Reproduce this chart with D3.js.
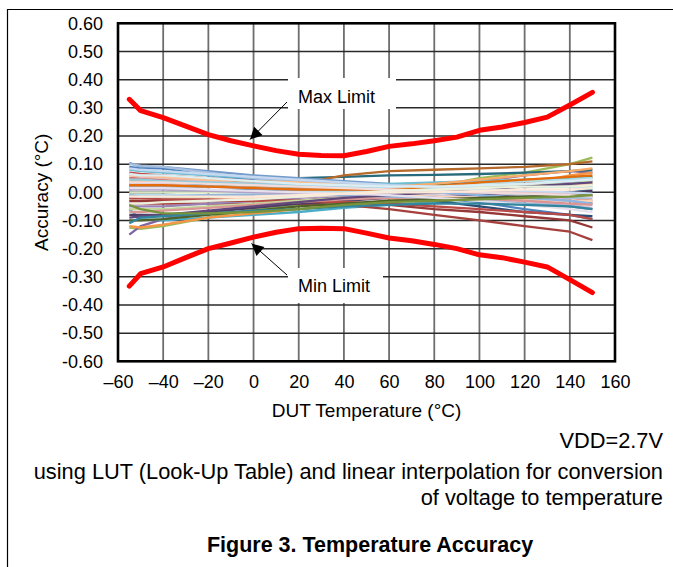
<!DOCTYPE html>
<html><head><meta charset="utf-8">
<script src="https://cdn.jsdelivr.net/npm/d3@7"></script>
<style>
html,body{margin:0;padding:0;background:#fff;}
svg{display:block;font-family:"Liberation Sans",Arial,sans-serif;}
</style></head>
<body>
<svg id="chart" width="673" height="567"></svg>
<script>
// ---- data ----
const limitTemps = [-55,-50,-40,-30,-20,-10,0,10,20,30,40,50,60,70,80,90,100,110,120,130,140,150];
const maxLimit = [0.33,0.29,0.265,0.235,0.205,0.183,0.165,0.148,0.135,0.131,0.13,0.145,0.163,0.172,0.183,0.196,0.22,0.232,0.248,0.267,0.31,0.355];
const minLimit = [-0.333,-0.289,-0.265,-0.232,-0.2,-0.18,-0.159,-0.142,-0.129,-0.128,-0.129,-0.145,-0.162,-0.172,-0.185,-0.2,-0.222,-0.232,-0.248,-0.265,-0.31,-0.356];

const dutTemps = [-55,-50,-40,-20,0,20,40,60,80,100,120,140,150];
const dutColors = ["#4F81BD","#C0504D","#9BBB59","#8064A2","#4BACC6","#F79646",
  "#2C4D75","#A5403D","#5F7530","#4D3B62","#276A7C","#B5692A",
  "#729ACA","#CD7371","#AFC97A","#9983B5","#6FBDD1","#F9AB6B",
  "#A7BFDE","#E6B9B8","#D7E4BD","#CCC1DA","#B7DEE8","#FCD5B5",
  "#953735","#B84A47","#8EB4E3","#FAC090","#C3D69B","#B3A2C7",
  "#93CDDD","#E46C0A","#D99694","#95B3D7","#4F6228","#60497A",
  "#C6D9F1","#F2DCDB","#EBF1DE","#E5E0EC","#DBEEF4","#FDE9D9","#31859C","#77933C"];
const dutValues = [
  [0.09,0.085,0.085,0.06,0.045,0.035,0.02,0.0,-0.02,-0.035,-0.06,-0.08,-0.095],
  [0.07,0.065,0.06,0.05,0.04,0.03,0.02,0.01,0.0,-0.01,-0.02,-0.03,-0.04],
  [-0.125,-0.13,-0.12,-0.09,-0.06,-0.045,-0.03,-0.01,0.02,0.05,0.07,0.1,0.123],
  [-0.15,-0.12,-0.095,-0.07,-0.05,-0.03,-0.015,0.0,0.02,0.04,0.06,0.075,0.07],
  [-0.06,-0.095,-0.1,-0.09,-0.08,-0.07,-0.055,-0.045,-0.035,-0.02,-0.01,0.0,0.01],
  [-0.12,-0.125,-0.115,-0.09,-0.075,-0.06,-0.045,-0.03,-0.02,0.0,0.03,0.06,0.07],
  [0.0,0.0,0.0,0.005,0.01,0.01,0.0,-0.01,-0.03,-0.05,-0.07,-0.08,-0.085],
  [-0.04,-0.04,-0.04,-0.04,-0.04,-0.04,-0.045,-0.06,-0.08,-0.1,-0.12,-0.14,-0.17],
  [0.03,0.03,0.03,0.025,0.02,0.02,0.02,0.02,0.025,0.03,0.04,0.05,0.055],
  [-0.08,-0.08,-0.08,-0.07,-0.055,-0.04,-0.03,-0.02,-0.015,-0.01,-0.01,0.0,0.005],
  [0.01,0.015,0.02,0.03,0.04,0.05,0.055,0.06,0.062,0.065,0.07,0.075,0.08],
  [0.02,0.02,0.02,0.02,0.02,0.03,0.06,0.075,0.08,0.085,0.09,0.1,0.11],
  [0.105,0.09,0.09,0.075,0.06,0.05,0.04,0.03,0.02,0.01,0.0,-0.01,-0.015],
  [0.05,0.05,0.045,0.035,0.03,0.02,0.015,0.01,0.005,0.0,-0.01,-0.02,-0.03],
  [-0.02,-0.02,-0.02,-0.015,-0.01,-0.005,0.0,0.01,0.015,0.02,0.025,0.03,0.03],
  [-0.05,-0.05,-0.05,-0.04,-0.03,-0.02,-0.01,0.0,0.01,0.02,0.03,0.035,0.04],
  [0.08,0.075,0.07,0.06,0.05,0.04,0.03,0.03,0.035,0.04,0.045,0.05,0.05],
  [0.04,0.04,0.04,0.035,0.03,0.025,0.02,0.02,0.03,0.045,0.06,0.075,0.085],
  [0.1,0.095,0.09,0.07,0.05,0.04,0.03,0.02,0.01,0.0,-0.01,-0.02,-0.02],
  [0.06,0.055,0.05,0.04,0.03,0.025,0.02,0.015,0.01,0.005,0.0,-0.005,-0.01],
  [0.0,0.0,0.0,0.0,0.0,0.0,0.005,0.01,0.015,0.02,0.025,0.03,0.035],
  [0.03,0.03,0.03,0.02,0.015,0.01,0.005,0.0,-0.01,-0.02,-0.03,-0.045,-0.055],
  [-0.01,-0.01,-0.01,-0.01,-0.005,0.0,0.005,0.01,0.02,0.03,0.04,0.045,0.05],
  [-0.03,-0.03,-0.03,-0.025,-0.02,-0.015,-0.01,-0.01,-0.015,-0.02,-0.025,-0.03,-0.03],
  [-0.03,-0.03,-0.03,-0.03,-0.03,-0.03,-0.035,-0.045,-0.06,-0.07,-0.085,-0.1,-0.125],
  [-0.02,-0.02,-0.025,-0.025,-0.03,-0.03,-0.035,-0.04,-0.05,-0.06,-0.07,-0.08,-0.095],
  [0.02,0.02,0.02,0.02,0.015,0.01,0.01,0.01,0.0,-0.01,-0.02,-0.03,-0.04],
  [0.06,0.06,0.055,0.045,0.04,0.035,0.025,0.02,0.015,0.015,0.02,0.025,0.03],
  [-0.06,-0.06,-0.06,-0.05,-0.04,-0.03,-0.02,-0.01,0.0,0.01,0.02,0.03,0.04],
  [0.01,0.01,0.01,0.005,0.0,-0.005,-0.01,-0.015,-0.02,-0.03,-0.04,-0.05,-0.06],
  [0.045,0.045,0.04,0.035,0.03,0.025,0.02,0.015,0.015,0.015,0.02,0.02,0.02],
  [0.025,0.025,0.025,0.02,0.015,0.01,0.01,0.01,0.02,0.035,0.045,0.055,0.06],
  [-0.07,-0.07,-0.065,-0.055,-0.045,-0.035,-0.025,-0.02,-0.02,-0.025,-0.03,-0.04,-0.045],
  [-0.01,-0.015,-0.015,-0.01,-0.01,-0.01,-0.01,-0.015,-0.02,-0.03,-0.04,-0.05,-0.06],
  [-0.1,-0.1,-0.095,-0.08,-0.065,-0.05,-0.04,-0.03,-0.025,-0.02,-0.015,-0.01,-0.01],
  [-0.09,-0.085,-0.08,-0.065,-0.05,-0.035,-0.02,-0.01,0.0,0.01,0.02,0.03,0.035],
  [0.085,0.08,0.075,0.065,0.055,0.045,0.035,0.025,0.02,0.01,0.005,0.0,-0.005],
  [0.035,0.035,0.035,0.03,0.025,0.02,0.015,0.01,0.005,0.0,-0.005,-0.01,-0.015],
  [-0.04,-0.04,-0.035,-0.03,-0.025,-0.015,-0.005,0.005,0.01,0.015,0.02,0.02,0.025],
  [0.015,0.015,0.015,0.01,0.005,0.0,-0.005,-0.01,-0.02,-0.03,-0.045,-0.06,-0.07],
  [0.065,0.06,0.06,0.05,0.04,0.03,0.025,0.02,0.02,0.025,0.03,0.04,0.045],
  [-0.015,-0.015,-0.015,-0.015,-0.015,-0.01,-0.005,0.0,0.0,0.005,0.01,0.01,0.015],
  [-0.11,-0.09,-0.085,-0.075,-0.065,-0.06,-0.05,-0.045,-0.04,-0.04,-0.045,-0.05,-0.06],
  [-0.045,-0.06,-0.075,-0.075,-0.07,-0.06,-0.045,-0.035,-0.03,-0.025,-0.02,-0.015,-0.01]
];

const xTicks = [-60,-40,-20,0,20,40,60,80,100,120,140,160];
const yTicks = [0.6,0.5,0.4,0.3,0.2,0.1,0,-0.1,-0.2,-0.3,-0.4,-0.5,-0.6];
const xTitle = "DUT Temperature (°C)";
const yTitle = "Accuracy (°C)";
const annMax = "Max Limit";
const annMin = "Min Limit";
const noteLines = ["VDD=2.7V","using LUT (Look-Up Table) and linear interpolation for conversion","of voltage to temperature"];
const figTitle = "Figure 3. Temperature Accuracy";

// ---- layout ----
const svg = d3.select("#chart");
const L = 118, R = 615, T = 23.3, B = 361.3;
const x = d3.scaleLinear().domain([-60,160]).range([L,R]);
const y = d3.scaleLinear().domain([-0.6,0.6]).range([B,T]);

// frame lines
svg.append("line").attr("x1",7).attr("x2",673).attr("y1",9.5).attr("y2",9.5).attr("stroke","#000").attr("stroke-width",1.2);
svg.append("line").attr("x1",7.5).attr("x2",7.5).attr("y1",9).attr("y2",567).attr("stroke","#000").attr("stroke-width",1.2);

// grid
const grid = svg.append("g");
grid.selectAll(".vg").data(xTicks.slice(1,-1)).enter().append("line")
  .attr("x1",d=>x(d)).attr("x2",d=>x(d)).attr("y1",T).attr("y2",B)
  .attr("stroke","#6e6e6e").attr("stroke-width",1.8);
grid.selectAll(".hg").data(yTicks.slice(1,-1)).enter().append("line")
  .attr("x1",L).attr("x2",R).attr("y1",d=>y(d)).attr("y2",d=>y(d))
  .attr("stroke","#2a2a2a").attr("stroke-width",1.5);

// annotation boxes (white, covering grid)
svg.append("rect").attr("x",288).attr("y",78).attr("width",108).attr("height",31).attr("fill","#fff");
svg.append("rect").attr("x",288).attr("y",268).attr("width",95).attr("height",35).attr("fill","#fff");

// frame of plot
svg.append("rect").attr("x",L).attr("y",T).attr("width",R-L).attr("height",B-T)
  .attr("fill","none").attr("stroke","#000").attr("stroke-width",2.6);

// DUT lines
const line = d3.line().x((d,i)=>x(dutTemps[i])).y(d=>y(d));
svg.append("g").selectAll("path").data(dutValues).enter().append("path")
  .attr("d",line).attr("fill","none")
  .attr("stroke",(d,i)=>dutColors[i % dutColors.length])
  .attr("stroke-width",2.3).attr("stroke-linejoin","round");

// limits
const lline = d3.line().x((d,i)=>x(limitTemps[i])).y(d=>y(d));
[maxLimit,minLimit].forEach(arr=>{
  svg.append("path").attr("d",lline(arr)).attr("fill","none").attr("stroke","#ff0000")
    .attr("stroke-width",5).attr("stroke-linecap","round").attr("stroke-linejoin","round");
});

// axis labels via d3 axes
const yAxis = d3.axisLeft(y).tickValues(yTicks).tickSize(0).tickPadding(15)
  .tickFormat(d=>(d<0?"-":"")+Math.abs(d).toFixed(2));
const gy = svg.append("g").attr("transform",`translate(${L},0)`).call(yAxis);
gy.select(".domain").remove();
gy.selectAll("text").attr("font-size",18).attr("fill","#000").attr("font-family","Liberation Sans, Arial, sans-serif");

const xAxis = d3.axisBottom(x).tickValues(xTicks).tickSize(0).tickPadding(14)
  .tickFormat(d=>(d<0?"\u2013":"")+Math.abs(d));
const gx = svg.append("g").attr("transform",`translate(0,${B})`).call(xAxis);
gx.select(".domain").remove();
gx.selectAll("text").attr("font-size",18).attr("fill","#000").attr("font-family","Liberation Sans, Arial, sans-serif");

// titles
svg.append("text").attr("x",(L+R)/2).attr("y",417).attr("text-anchor","middle")
  .attr("font-size",19).text(xTitle);
svg.append("text").attr("transform",`translate(48,${(T+B)/2}) rotate(-90)`).attr("text-anchor","middle")
  .attr("font-size",19).text(yTitle);

// annotations
svg.append("text").attr("x",298).attr("y",103).attr("font-size",18).text(annMax);
svg.append("text").attr("x",298).attr("y",292).attr("font-size",18).text(annMin);

const defs = svg.append("defs");
defs.append("marker").attr("id","ah").attr("viewBox","0 0 10 10").attr("refX",10).attr("refY",5)
  .attr("markerWidth",16).attr("markerHeight",12).attr("markerUnits","userSpaceOnUse").attr("orient","auto")
  .append("path").attr("d","M0,0 L10,5 L0,10 Z").attr("fill","#000");
svg.append("line").attr("x1",287).attr("y1",102).attr("x2",250).attr("y2",139.5)
  .attr("stroke","#000").attr("stroke-width",1).attr("marker-end","url(#ah)");
svg.append("line").attr("x1",287).attr("y1",275).attr("x2",251.5).attr("y2",243.5)
  .attr("stroke","#000").attr("stroke-width",1).attr("marker-end","url(#ah)");

// notes
const noteY = [447.5,478.5,504.5];
noteLines.forEach((t,i)=>{
  svg.append("text").attr("x",663).attr("y",noteY[i]).attr("text-anchor","end")
    .attr("font-size",21.8).text(t);
});
svg.append("text").attr("x",370).attr("y",551.5).attr("text-anchor","middle")
  .attr("font-size",21.5).attr("font-weight","bold").text(figTitle);
</script>
</body></html>
